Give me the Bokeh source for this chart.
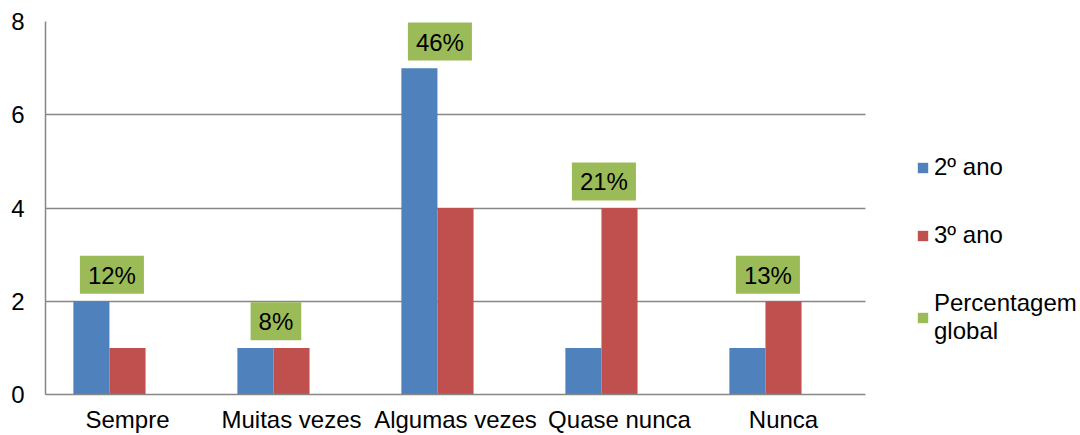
from bokeh.plotting import figure
from bokeh.models import (ColumnDataSource, FixedTicker, Legend, LegendItem, Range1d,
                          BoxAnnotation)
from bokeh.core.properties import value
from bokeh.embed import file_html
from bokeh.resources import INLINE

categories = ["Sempre", "Muitas vezes", "Algumas vezes", "Quase nunca", "Nunca"]
ano2 = [2, 1, 7, 1, 1]
ano3 = [1, 1, 4, 4, 2]
global_pct = [12, 8, 46, 21, 13]
y_ticks = [0, 2, 4, 6, 8]

BLUE = "#4F81BD"
RED = "#C0504D"
GREEN = "#9BBB59"
GRID = "#868686"
FONT = "Liberation Sans"

n = len(categories)
centers = [i + 0.5 for i in range(n)]
W = 0.22

# plot area spans 820 px for the 5 categories; the frame continues to the right
# edge so the legend can sit inside it
FRAME_LEFT = 45
CAT_AREA = 820
FIG_W, FIG_H = 1080, 435
x_end = n * (FIG_W - FRAME_LEFT) / CAT_AREA

src = ColumnDataSource(dict(
    x2=[c - W for c in centers],
    x3=centers,
    xg=[c + W for c in centers],
    ano2=ano2,
    ano3=ano3,
    pct=global_pct,
    lx=[c - 0.095 for c in centers],
    ly=[max(a, b) + 0.57 for a, b in zip(ano2, ano3)],
    ltxt=[f"{v}%" for v in global_pct],
))

p = figure(width=FIG_W, height=FIG_H, x_range=Range1d(0, x_end), y_range=Range1d(0, 8),
           output_backend="svg", toolbar_location=None,
           min_border_left=FRAME_LEFT, min_border_right=0, min_border_top=21, min_border_bottom=39)
p.outline_line_color = None
p.background_fill_color = "white"
p.border_fill_color = "white"

# axes
p.yaxis.ticker = FixedTicker(ticks=y_ticks)
p.yaxis.axis_line_color = GRID
p.yaxis.axis_line_width = 1.5
p.yaxis.major_tick_line_color = None
p.yaxis.minor_tick_line_color = None
p.yaxis.major_tick_out = 0
p.yaxis.major_tick_in = 0
p.yaxis.major_label_standoff = 21
p.yaxis.major_label_text_font = FONT
p.yaxis.major_label_text_font_size = "24px"
p.yaxis.major_label_text_color = "black"

p.xaxis.ticker = FixedTicker(ticks=centers)
p.xaxis.major_label_overrides = {c: name for c, name in zip(centers, categories)}
p.xaxis.bounds = (0, n)
p.xaxis.axis_line_color = GRID
p.xaxis.axis_line_width = 1.5
p.xaxis.major_tick_line_color = None
p.xaxis.minor_tick_line_color = None
p.xaxis.major_tick_out = 0
p.xaxis.major_tick_in = 0
p.xaxis.major_label_standoff = 11
p.xaxis.major_label_text_font = FONT
p.xaxis.major_label_text_font_size = "24px"
p.xaxis.major_label_text_color = "black"

p.xgrid.visible = False
p.ygrid.ticker = FixedTicker(ticks=y_ticks)
p.ygrid.grid_line_color = GRID
p.ygrid.grid_line_width = 1.5

# white area right of the categories (gridlines stop at the last category)
p.add_layout(BoxAnnotation(left=n, fill_color="white", fill_alpha=1, line_color=None))

r2 = p.vbar(x="x2", top="ano2", width=W, source=src, fill_color=BLUE, line_color=None)
r3 = p.vbar(x="x3", top="ano3", width=W, source=src, fill_color=RED, line_color=None)
rg = p.vbar(x="xg", top="pct", width=W, source=src, fill_color=GREEN, line_color=None, visible=False)

p.text(x="lx", y="ly", text="ltxt", source=src, text_align="center", text_baseline="middle",
       text_font=value(FONT), text_font_size="24px", text_color="black",
       background_fill_color=GREEN, padding=dict(left=8, right=8, top=6, bottom=5))

legend = Legend(items=[
    LegendItem(label="2º ano", renderers=[r2]),
    LegendItem(label="3º ano", renderers=[r3]),
    LegendItem(label="Percentagem\nglobal", renderers=[rg]),
], location=(871, 49))
legend.padding = 0
legend.margin = 0
legend.border_line_color = None
legend.background_fill_alpha = 0
legend.glyph_width = 13
legend.glyph_height = 13
legend.label_standoff = 5
legend.spacing = 40
legend.label_text_font = FONT
legend.label_text_font_size = "24px"
legend.label_text_color = "black"
p.add_layout(legend, "center")

open("out.html", "w").write(file_html(p, INLINE))
